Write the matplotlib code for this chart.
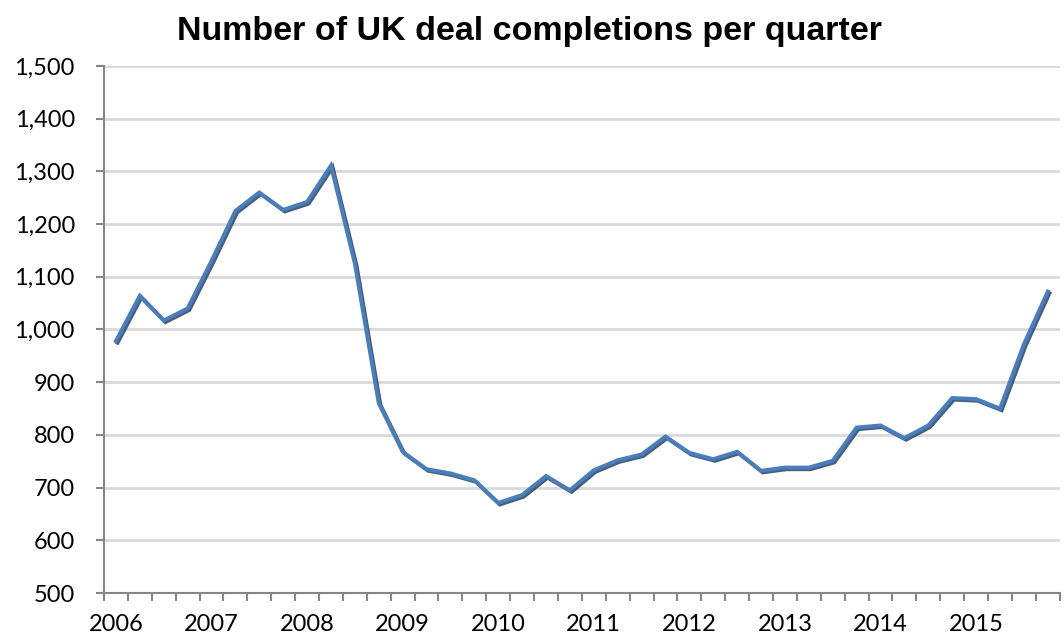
import matplotlib
matplotlib.use("Agg")
import matplotlib.pyplot as plt
import matplotlib.patheffects as pe
from matplotlib.ticker import FuncFormatter, FixedLocator

# quarterly completions, 2006 Q1 .. 2015 Q4
years = ["2006", "2007", "2008", "2009", "2010", "2011", "2012", "2013", "2014", "2015"]
deals = [978, 1064, 1017, 1040,
         1130, 1225, 1260, 1227,
         1242, 1311, 1125, 860,
         768, 735, 727, 714,
         671, 686, 722, 695,
         733, 752, 763, 797,
         766, 754, 768, 732,
         738, 738, 751, 814,
         818, 794, 818, 870,
         868, 850, 972, 1072]

plt.rcParams['font.family'] = ['Lato', 'DejaVu Sans']

fig = plt.figure(figsize=(10.64, 6.36), dpi=100)
ax = fig.add_axes([0.0977, 0.0676, 0.8983, 0.8287])

x = list(range(len(deals)))
ax.plot(x, deals, color='#4a7ebb', lw=2.8, solid_joinstyle='miter',
        path_effects=[pe.SimpleLineShadow(offset=(1.2, -1.2), shadow_color='#17375e', alpha=0.8),
                      pe.Normal()], zorder=3)

ax.set_xlim(-0.5, len(deals) - 0.5)
ax.set_ylim(500, 1500)
ax.set_yticks(range(500, 1501, 100))
ax.yaxis.set_major_formatter(FuncFormatter(lambda v, p: f"{int(v):,}"))
ax.grid(axis='y', color='#d9d9d9', lw=2)
ax.set_axisbelow(True)

# year labels at the first quarter of each year, ticks between categories
ax.set_xticks([i * 4 for i in range(len(years))])
ax.set_xticklabels(years)
ax.tick_params(axis='x', which='major', length=0, pad=15)
ax.xaxis.set_minor_locator(FixedLocator([i - 0.5 for i in range(len(deals) + 1)]))
ax.tick_params(axis='x', which='minor', length=6, width=1.5, color='#868686')
ax.tick_params(axis='y', length=6, width=1.5, color='#868686', pad=15)
ax.tick_params(labelsize=17)

for s in ['top', 'right']:
    ax.spines[s].set_visible(False)
for s in ['left', 'bottom']:
    ax.spines[s].set_color('#868686')
    ax.spines[s].set_linewidth(1.5)

fig.text(0.498, 0.951, "Number of UK deal completions per quarter", ha='center', va='center',
         fontsize=24.5, fontweight='bold', family=['Liberation Sans', 'DejaVu Sans'])

fig.savefig("out.png", dpi=100)
